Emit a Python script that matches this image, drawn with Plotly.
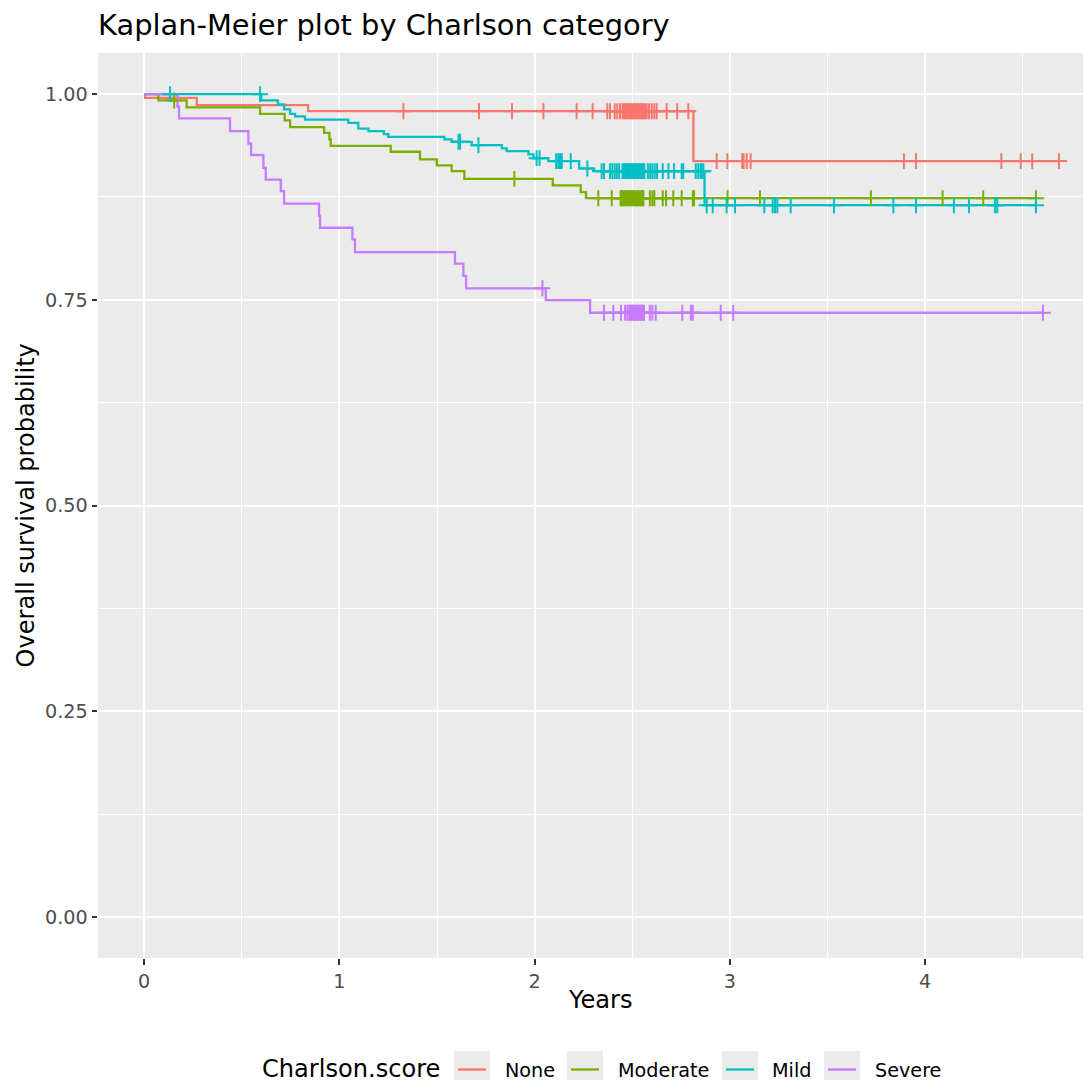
import numpy as np
import plotly.graph_objects as go

# ---------------- data ----------------
groups = ["None", "Moderate", "Mild", "Severe"]
colors = ["#F8766D", "#7CAE00", "#00BFC4", "#C77CFF"]

none_times = [0.0, 0.005, 0.27, 0.84, 2.813, 4.685]
none_surv = [1.0, 0.9955, 0.9866, 0.9793, 0.9186, 0.9186]
none_censor = [1.328, 1.715, 1.884, 2.045, 2.215, 2.297, 2.372, 2.386, 2.410, 2.423,
               2.437, 2.450, 2.457, 2.463, 2.470, 2.477, 2.484, 2.491, 2.497, 2.504,
               2.511, 2.518, 2.525, 2.531, 2.538, 2.545, 2.552, 2.558, 2.565, 2.574,
               2.586, 2.600, 2.613, 2.625, 2.676, 2.730, 2.787, 2.932, 2.987, 3.063,
               3.070, 3.086, 3.106, 3.891, 3.953, 4.390, 4.489, 4.548, 4.685]

mod_times = [0.0, 0.073, 0.218, 0.594, 0.720, 0.748, 0.922, 0.949, 0.956, 1.263,
             1.413, 1.499, 1.575, 1.640, 2.093, 2.236, 2.263, 4.567]
mod_surv = [1.0, 0.9923, 0.984, 0.976, 0.968, 0.960, 0.953, 0.945, 0.937, 0.930,
            0.9206, 0.9134, 0.9064, 0.897, 0.889, 0.881, 0.8735, 0.8735]
mod_censor = [0.154, 1.896, 2.326, 2.395, 2.440, 2.447, 2.454, 2.461, 2.468, 2.475,
              2.482, 2.489, 2.496, 2.503, 2.510, 2.517, 2.524, 2.531, 2.538, 2.545,
              2.552, 2.557, 2.590, 2.603, 2.613, 2.656, 2.673, 2.710, 2.753, 2.810,
              2.816, 2.988, 3.154, 3.722, 4.089, 4.297, 4.567]

mild_times = [0.0, 0.600, 0.685, 0.717, 0.748, 0.773, 0.824, 1.046, 1.097, 1.149,
              1.228, 1.251, 1.538, 1.575, 1.678, 1.832, 1.857, 1.968, 1.994, 2.070,
              2.228, 2.300, 2.870, 4.567]
mild_surv = [1.0, 0.9923, 0.9875, 0.9814, 0.976, 0.973, 0.969, 0.965, 0.958, 0.955,
             0.9514, 0.948, 0.945, 0.942, 0.938, 0.934, 0.9307, 0.9267, 0.9222, 0.9186,
             0.9097, 0.9064, 0.865, 0.865]
mild_censor = [0.133, 0.594, 1.610, 1.618, 1.712, 2.010, 2.025, 2.110, 2.121, 2.130,
               2.139, 2.185, 2.270, 2.343, 2.355, 2.386, 2.398, 2.410, 2.421, 2.433,
               2.450, 2.457, 2.464, 2.471, 2.478, 2.485, 2.492, 2.499, 2.506, 2.513,
               2.520, 2.527, 2.534, 2.541, 2.548, 2.555, 2.562, 2.580, 2.592, 2.603,
               2.615, 2.627, 2.656, 2.685, 2.714, 2.753, 2.761, 2.825, 2.838, 2.850,
               2.855, 2.864, 2.881, 2.912, 2.983, 3.026, 3.176, 3.219, 3.231, 3.243,
               3.311, 3.533, 3.837, 3.953, 4.147, 4.224, 4.357, 4.369, 4.567]

sev_times = [0.0, 0.171, 0.179, 0.440, 0.534, 0.548, 0.611, 0.623, 0.700, 0.717,
             0.896, 0.901, 1.067, 1.080, 1.592, 1.635, 1.649, 2.057, 2.284, 4.603]
sev_surv = [1.0, 0.985, 0.9705, 0.955, 0.940, 0.926, 0.9105, 0.896, 0.882, 0.867,
            0.852, 0.8376, 0.8234, 0.808, 0.794, 0.779, 0.764, 0.7497, 0.7343, 0.7343]
sev_censor = [2.040, 2.355, 2.403, 2.442, 2.463, 2.475, 2.485, 2.491, 2.497, 2.503,
              2.509, 2.515, 2.521, 2.527, 2.533, 2.539, 2.545, 2.551, 2.557, 2.560,
              2.590, 2.603, 2.620, 2.756, 2.800, 2.810, 2.953, 3.017, 4.603]

x_ticks = [0, 1, 2, 3, 4]
y_ticks = [0.0, 0.25, 0.50, 0.75, 1.00]
y_ticklabels = ["0.00", "0.25", "0.50", "0.75", "1.00"]

series_times = [none_times, mod_times, mild_times, sev_times]
series_surv = [none_surv, mod_surv, mild_surv, sev_surv]
series_censor = [none_censor, mod_censor, mild_censor, sev_censor]

FONT = "DejaVu Sans"
TITLE_SIZE = 28.9
LABEL_SIZE = 24.1
TEXT_SIZE = 19.2

# ---------------- geometry ----------------
# The page body has an 8px default margin; all page-pixel targets are shifted by it.
OFF = 8
W, H = 1091, 1080
PW, PH = 993, 905                 # plot-area size in pixels
ML, MT = 98 - OFF, 53 - OFF
MR, MB = W - ML - PW, H - MT - PH


def px_x(p):
    return (p - OFF - ML) / PW


def px_y(p):
    return (MT + PH - (p - OFF)) / PH


def surv_at(times, surv, t):
    idx = np.searchsorted(np.asarray(times), np.asarray(t), side="right") - 1
    return np.asarray(surv)[idx]


fig = go.Figure()

for g, c, tt, ss in zip(groups, colors, series_times, series_surv):
    fig.add_trace(go.Scatter(
        x=tt, y=ss, mode="lines", name=g, line=dict(color=c, width=2.3, shape="hv"),
        legendgroup=g, showlegend=False,
    ))

for g, c, tt, ss, cc in zip(groups, colors, series_times, series_surv, series_censor):
    fig.add_trace(go.Scatter(
        x=cc, y=surv_at(tt, ss, cc), mode="markers", name=g + " (censored)",
        marker=dict(symbol="cross-thin", size=11.4, color=c,
                    line=dict(color=c, width=2)),
        legendgroup=g, showlegend=False,
    ))

# ---------------- manual ggplot-style legend ----------------
box_left = [454, 567, 722, 824]
text_left = [503, 616, 770, 873]
box_w = 36
box_top, box_bot = 1051, 1087
line_y = 1069.5
shapes = []
annotations = []
for g, c, bl, tl in zip(groups, colors, box_left, text_left):
    shapes.append(dict(type="rect", xref="paper", yref="paper",
                       x0=px_x(bl), x1=px_x(bl + box_w), y0=px_y(box_bot), y1=px_y(box_top),
                       fillcolor="#EBEBEB", line=dict(width=0), layer="above"))
    shapes.append(dict(type="line", xref="paper", yref="paper",
                       x0=px_x(bl + 4), x1=px_x(bl + box_w - 4), y0=px_y(line_y), y1=px_y(line_y),
                       line=dict(color=c, width=2.3), layer="above"))
    annotations.append(dict(text=g, xref="paper", yref="paper", x=px_x(tl), y=px_y(1070),
                            xanchor="left", yanchor="middle", showarrow=False,
                            font=dict(family=FONT, size=TEXT_SIZE, color="black")))

annotations.append(dict(text="Charlson.score", xref="paper", yref="paper", x=px_x(260),
                        y=px_y(1069), xanchor="left", yanchor="middle", showarrow=False,
                        font=dict(family=FONT, size=LABEL_SIZE, color="black")))
# axis titles
annotations.append(dict(text="Years", xref="paper", yref="paper", x=px_x(600.5),
                        y=px_y(1000), xanchor="center", yanchor="middle", showarrow=False,
                        font=dict(family=FONT, size=LABEL_SIZE, color="black")))
annotations.append(dict(text="Overall survival probability", xref="paper", yref="paper",
                        x=px_x(25), y=0.5, xanchor="center", yanchor="middle", textangle=-90,
                        showarrow=False, font=dict(family=FONT, size=LABEL_SIZE, color="black")))

fig.update_layout(
    width=W, height=H,
    margin=dict(l=ML, r=MR, t=MT, b=MB, pad=0),
    paper_bgcolor="white", plot_bgcolor="#EBEBEB",
    showlegend=False,
    title=dict(text="Kaplan-Meier plot by Charlson category", x=0, xref="paper",
               xanchor="left", y=1 - (25 - OFF) / H, yref="container", yanchor="middle",
               font=dict(family=FONT, size=TITLE_SIZE, color="black")),
    font=dict(family=FONT),
    shapes=shapes, annotations=annotations,
)

fig.update_xaxes(
    range=[-0.236, 4.849], tickvals=x_ticks, ticktext=[str(v) for v in x_ticks],
    ticks="outside", ticklen=5.5, tickwidth=2.2, tickcolor="#333333",
    tickfont=dict(family=FONT, size=TEXT_SIZE, color="#4D4D4D"),
    showgrid=True, gridcolor="white", gridwidth=2.4, zeroline=False, showline=False,
    automargin=False,
    minor=dict(tickvals=[0.5, 1.5, 2.5, 3.5, 4.5], showgrid=True, gridcolor="white",
               gridwidth=1.2, ticks=""),
)
fig.update_yaxes(
    range=[-0.05, 1.05], tickvals=y_ticks, ticktext=y_ticklabels,
    ticks="outside", ticklen=5.5, tickwidth=2.2, tickcolor="#333333",
    tickfont=dict(family=FONT, size=TEXT_SIZE, color="#4D4D4D"),
    showgrid=True, gridcolor="white", gridwidth=2.4, zeroline=False, showline=False,
    automargin=False,
    minor=dict(tickvals=[0.125, 0.375, 0.625, 0.875], showgrid=True, gridcolor="white",
               gridwidth=1.2, ticks=""),
)

fig.write_html("out.html")
